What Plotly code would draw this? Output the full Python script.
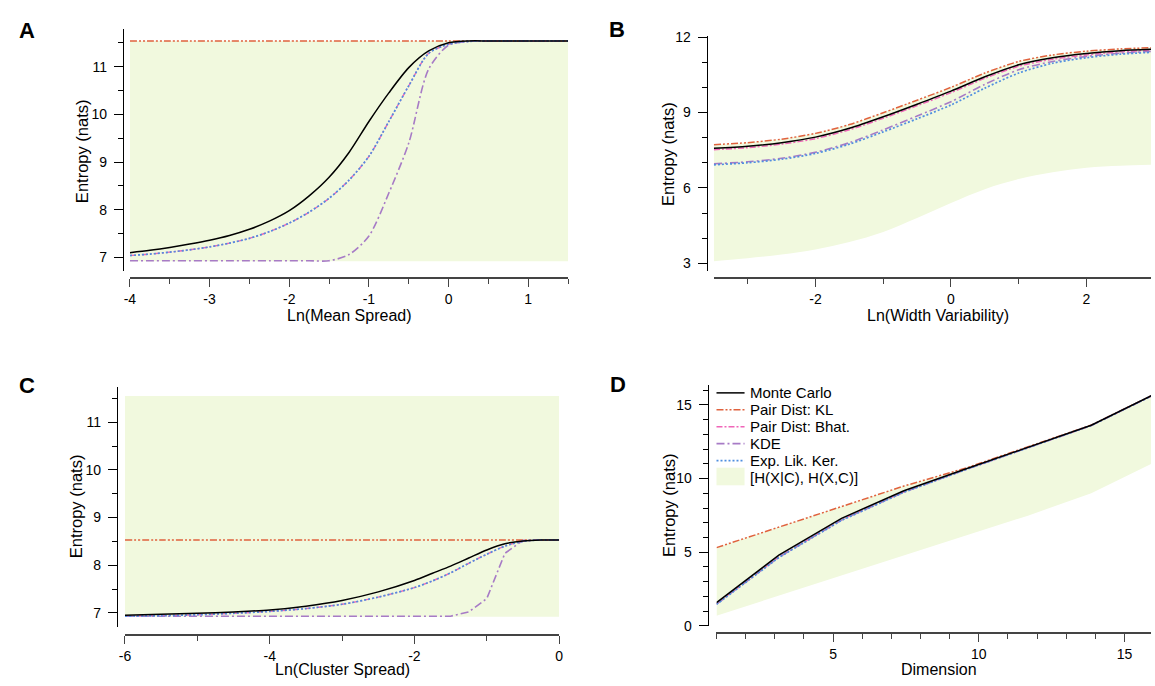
import plotly.graph_objects as go

W, H = 1155, 686

# ---------------- data ----------------
# Panel A: Ln(Mean Spread)
a_x = [-4, -3.75, -3.5, -3.25, -3, -2.75, -2.5, -2.25, -2, -1.75, -1.5, -1.25, -1,
       -0.75, -0.5, -0.25, 0, 0.25, 0.5, 0.75, 1, 1.25, 1.5]
a_mc = [7.10, 7.15, 7.21, 7.28, 7.36, 7.46, 7.59, 7.76, 7.98, 8.29, 8.68, 9.20, 9.85,
        10.45, 10.98, 11.33, 11.50, 11.54, 11.54, 11.54, 11.54, 11.54, 11.54]
a_kl = [11.54] * 23
a_bhat = [7.04, 7.07, 7.11, 7.16, 7.22, 7.30, 7.40, 7.54, 7.72, 7.95, 8.24, 8.62, 9.12,
          9.85, 10.60, 11.28, 11.47, 11.53, 11.54, 11.54, 11.54, 11.54, 11.54]
a_kde = [6.93, 6.93, 6.93, 6.93, 6.93, 6.93, 6.93, 6.93, 6.93, 6.93, 6.93, 7.06, 7.45,
         8.35, 9.40, 10.95, 11.45, 11.53, 11.54, 11.54, 11.54, 11.54, 11.54]
a_elk = [7.04, 7.07, 7.11, 7.16, 7.22, 7.30, 7.40, 7.54, 7.72, 7.95, 8.24, 8.62, 9.12,
         9.85, 10.60, 11.28, 11.47, 11.53, 11.54, 11.54, 11.54, 11.54, 11.54]
a_low = [6.92] * 23
a_high = [11.54] * 23
a_xticks = [-4, -3, -2, -1, 0, 1]
a_yticks = [7, 8, 9, 10, 11]

# Panel B: Ln(Width Variability)
b_x = [-3.5, -3, -2.5, -2, -1.5, -1, -0.5, 0, 0.5, 1, 1.5, 2, 2.5, 3]
b_mc = [7.58, 7.66, 7.80, 8.02, 8.37, 8.83, 9.33, 9.85, 10.42, 10.90, 11.18, 11.35, 11.46, 11.52]
b_kl = [7.72, 7.80, 7.94, 8.17, 8.52, 8.99, 9.49, 10.00, 10.57, 11.03, 11.29, 11.44, 11.53, 11.58]
b_bhat = [7.52, 7.60, 7.74, 7.96, 8.31, 8.77, 9.27, 9.79, 10.36, 10.84, 11.12, 11.29, 11.41, 11.48]
b_kde = [6.96, 7.04, 7.18, 7.42, 7.80, 8.31, 8.86, 9.43, 10.12, 10.70, 11.03, 11.23, 11.36, 11.44]
b_elk = [6.92, 7.00, 7.14, 7.37, 7.74, 8.23, 8.75, 9.30, 9.97, 10.57, 10.96, 11.18, 11.32, 11.40]
b_low = [3.08, 3.20, 3.35, 3.55, 3.85, 4.25, 4.80, 5.40, 5.95, 6.35, 6.62, 6.80, 6.88, 6.92]
b_high = [7.72, 7.80, 7.94, 8.17, 8.52, 8.99, 9.49, 10.00, 10.57, 11.03, 11.29, 11.44, 11.53, 11.58]
b_xticks = [-2, 0, 2]
b_yticks = [3, 6, 9, 12]

# Panel C: Ln(Cluster Spread)
c_x = [-6, -5.5, -5, -4.5, -4, -3.5, -3, -2.5, -2, -1.75, -1.5, -1.25, -1, -0.75, -0.5, -0.25, 0]
c_mc = [6.95, 6.97, 6.99, 7.02, 7.06, 7.14, 7.26, 7.44, 7.68, 7.83, 7.98, 8.15, 8.32, 8.45, 8.51, 8.53, 8.53]
c_kl = [8.53] * 17
c_bhat = [6.93, 6.94, 6.96, 6.99, 7.03, 7.09, 7.18, 7.33, 7.53, 7.67, 7.84, 8.04, 8.23, 8.40, 8.50, 8.53, 8.53]
c_kde = [6.93, 6.93, 6.93, 6.93, 6.93, 6.93, 6.93, 6.93, 6.93, 6.93, 6.93, 7.02, 7.30, 8.25, 8.52, 8.53, 8.53]
c_elk = [6.93, 6.94, 6.96, 6.99, 7.03, 7.09, 7.18, 7.33, 7.53, 7.67, 7.84, 8.04, 8.23, 8.40, 8.50, 8.53, 8.53]
c_low = [6.92] * 17
c_high = [11.55] * 17
c_xticks = [-6, -4, -2, 0]
c_yticks = [7, 8, 9, 10, 11]

# Panel D: Dimension
d_x = [1, 3.14, 5.29, 7.43, 9.57, 11.71, 13.86, 16]
d_mc = [1.58, 4.80, 7.30, 9.17, 10.66, 12.14, 13.62, 15.70]
d_kl = [5.31, 6.70, 8.10, 9.49, 10.72, 12.16, 13.63, 15.70]
d_bhat = [1.50, 4.68, 7.20, 9.10, 10.63, 12.12, 13.60, 15.68]
d_kde = [1.48, 4.66, 7.18, 9.08, 10.62, 12.12, 13.60, 15.68]
d_elk = [1.46, 4.64, 7.16, 9.07, 10.62, 12.11, 13.60, 15.68]
d_low = [0.69, 2.05, 3.42, 4.78, 6.14, 7.50, 9.00, 11.08]
d_high = [5.31, 6.70, 8.10, 9.49, 10.72, 12.16, 13.63, 15.70]
d_xticks = [5, 10, 15]
d_yticks = [0, 5, 10, 15]

legend_names = ["Monte Carlo", "Pair Dist: KL", "Pair Dist: Bhat.", "KDE",
                "Exp. Lik. Ker.", "[H(X|C), H(X,C)]"]
x_titles = ["Ln(Mean Spread)", "Ln(Width Variability)", "Ln(Cluster Spread)", "Dimension"]
y_title = "Entropy (nats)"
panel_letters = ["A", "B", "C", "D"]

# ---------------- style ----------------
FONT = "Liberation Sans, Arial, Helvetica, sans-serif"
FILL = "#F1F9DE"
KEYS = ["mc", "kl", "bhat", "kde", "elk"]
COL = dict(mc="#000000", kl="#E0623E", bhat="#F065B8", kde="#A77BC6", elk="#4F8FE0")
DASH = dict(mc="solid", kl="7px,2px,2px,2px,2px,2px", bhat="6px,2px,2px,2px",
            kde="8px,3px,2px,3px", elk="2px,2px")
WID = dict(mc=1.5, kl=1.5, bhat=1.4, kde=1.6, elk=1.7)


def px(x):
    return x / W


def py(y):
    return 1 - y / H


def minor_vals(rng, step, majors):
    out = []
    k = int(rng[0] // step) - 1
    while k * step <= rng[1] + 1e-9:
        v = round(k * step, 6)
        if rng[0] - 1e-9 <= v <= rng[1] + 1e-9 and all(abs(v - m) > 1e-6 for m in majors):
            out.append(v)
        k += 1
    return out


def fmt(v):
    return str(int(v)) if float(v).is_integer() else str(v)


fig = go.Figure()

panels = [
    dict(x=a_x, low=a_low, high=a_high, s=dict(mc=a_mc, kl=a_kl, bhat=a_bhat, kde=a_kde, elk=a_elk),
         shape="spline", kde_shape="spline"),
    dict(x=b_x, low=b_low, high=b_high, s=dict(mc=b_mc, kl=b_kl, bhat=b_bhat, kde=b_kde, elk=b_elk),
         shape="spline", kde_shape="spline"),
    dict(x=c_x, low=c_low, high=c_high, s=dict(mc=c_mc, kl=c_kl, bhat=c_bhat, kde=c_kde, elk=c_elk),
         shape="spline", kde_shape="linear"),
    dict(x=d_x, low=d_low, high=d_high, s=dict(mc=d_mc, kl=d_kl, bhat=d_bhat, kde=d_kde, elk=d_elk),
         shape="linear", kde_shape="linear"),
]

draw_order = ["kl", "bhat", "kde", "elk", "mc"]
for i, p in enumerate(panels):
    xa = "x" if i == 0 else f"x{i+1}"
    ya = "y" if i == 0 else f"y{i+1}"
    fig.add_trace(go.Scatter(x=p["x"], y=p["low"], mode="lines", line=dict(width=0, shape=p["shape"]),
                             xaxis=xa, yaxis=ya, showlegend=False, hoverinfo="skip"))
    fig.add_trace(go.Scatter(x=p["x"], y=p["high"], mode="lines", line=dict(width=0, shape=p["shape"]),
                             fill="tonexty", fillcolor=FILL, xaxis=xa, yaxis=ya, showlegend=False,
                             hoverinfo="skip"))
    for k in draw_order:
        shp = p["kde_shape"] if k == "kde" else p["shape"]
        fig.add_trace(go.Scatter(x=p["x"], y=p["s"][k], mode="lines",
                                 line=dict(color=COL[k], width=WID[k], dash=DASH[k], shape=shp,
                                           smoothing=0.8 if shp == "spline" else None),
                                 xaxis=xa, yaxis=ya, showlegend=False,
                                 name=legend_names[KEYS.index(k)]))

# ---------------- axes ----------------
TICKFONT = dict(family=FONT, size=14, color="black")


def xaxis(dom_px, rng, ticks, minor, line_y):
    return dict(domain=[px(dom_px[0]), px(dom_px[1])], range=rng, anchor="free", position=py(line_y),
                showline=True, linecolor="#444", linewidth=1.6, ticks="outside", ticklen=8,
                tickwidth=1.4, tickcolor="#444", tickmode="array", tickvals=ticks,
                ticktext=[fmt(v) for v in ticks],
                minor=dict(ticks="outside", ticklen=5, tickwidth=1.3, tickcolor="#444",
                           tickmode="array", tickvals=minor_vals(rng, minor, ticks)),
                showgrid=False, zeroline=False, tickfont=TICKFONT, ticklabelstandoff=0)


def yaxis(dom_px, rng, ticks, minor, line_x):
    return dict(domain=[py(dom_px[1]), py(dom_px[0])], range=rng, anchor="free", position=px(line_x),
                showline=True, linecolor="black", linewidth=1.4, ticks="outside", ticklen=9,
                tickwidth=1.3, tickcolor="black", tickmode="array", tickvals=ticks,
                ticktext=[fmt(v) for v in ticks],
                minor=dict(ticks="outside", ticklen=5, tickwidth=1.3, tickcolor="black",
                           tickmode="array", tickvals=minor_vals(rng, minor, ticks)),
                showgrid=False, zeroline=False, tickfont=TICKFONT, ticklabelstandoff=4)


fig.update_layout(
    width=W, height=H, margin=dict(l=0, r=0, t=0, b=0),
    paper_bgcolor="white", plot_bgcolor="white", showlegend=False,
    font=dict(family=FONT, color="black"),
    xaxis=xaxis((125, 567), [-4, 1.5], a_xticks, 0.5, 277),
    yaxis=yaxis((23, 270), [6.713, 11.78], a_yticks, 0.5, 118),
    xaxis2=xaxis((714, 1155), [-3.5, 2.952], b_xticks, 1, 277),
    yaxis2=yaxis((30, 270), [2.69, 12.03], b_yticks, 1, 707),
    xaxis3=xaxis((120, 558), [-6, 0], c_xticks, 1, 642),
    yaxis3=yaxis((388, 634), [6.70, 11.75], c_yticks, 0.5, 112),
    xaxis4=xaxis((716.7, 1155), [1, 15.91], d_xticks, 1, 640.5),
    yaxis4=yaxis((386, 632.7), [0, 16.38], d_yticks, 1, 708),
)

# ---------------- text ----------------
ann = []
letter_pos = [(21, 24), (616, 23), (21, 387), (617, 386)]
for t, (x, y) in zip(panel_letters, letter_pos):
    ann.append(dict(text=f"<b>{t}</b>", x=px(x), y=py(y), xref="paper", yref="paper",
                    showarrow=False, xanchor="center", yanchor="middle",
                    font=dict(family=FONT, size=22, color="black")))
xt_pos = [(346, 315), (940, 315), (339, 677.5), (941, 677.5)]
for t, (x, y) in zip(x_titles, xt_pos):
    ann.append(dict(text=t, x=px(x), y=py(y), xref="paper", yref="paper", showarrow=False,
                    xanchor="center", yanchor="middle", font=dict(family=FONT, size=16, color="black")))
yt_pos = [(76, 147), (667, 150), (70, 510), (669, 509)]
for (x, y) in yt_pos:
    ann.append(dict(text=y_title, x=px(x), y=py(y), xref="paper", yref="paper", showarrow=False,
                    textangle=-90, xanchor="center", yanchor="middle",
                    font=dict(family=FONT, size=16.5, color="black")))

# manual legend in panel D
shapes = []
row_y = [394.5, 411.8, 429.1, 446.4, 463.7, 481.0]
for i, k in enumerate(KEYS):
    shapes.append(dict(type="line", xref="paper", yref="paper", x0=px(716.7), x1=px(745),
                       y0=py(row_y[i]), y1=py(row_y[i]),
                       line=dict(color=COL[k], width=WID[k], dash=DASH[k])))
shapes.append(dict(type="rect", xref="paper", yref="paper", x0=px(716.7), x1=px(745),
                   y0=py(489), y1=py(471), fillcolor=FILL, line=dict(width=0)))
for name, y in zip(legend_names, row_y):
    ann.append(dict(text=name, x=px(749), y=py(y), xref="paper", yref="paper", showarrow=False,
                    xanchor="left", yanchor="middle", borderpad=0,
                    font=dict(family=FONT, size=15, color="black")))

fig.update_layout(annotations=ann, shapes=shapes)
fig.write_html("out.html", config={"displayModeBar": False},
               post_script="document.body.style.margin='0';document.body.style.overflow='hidden';")
